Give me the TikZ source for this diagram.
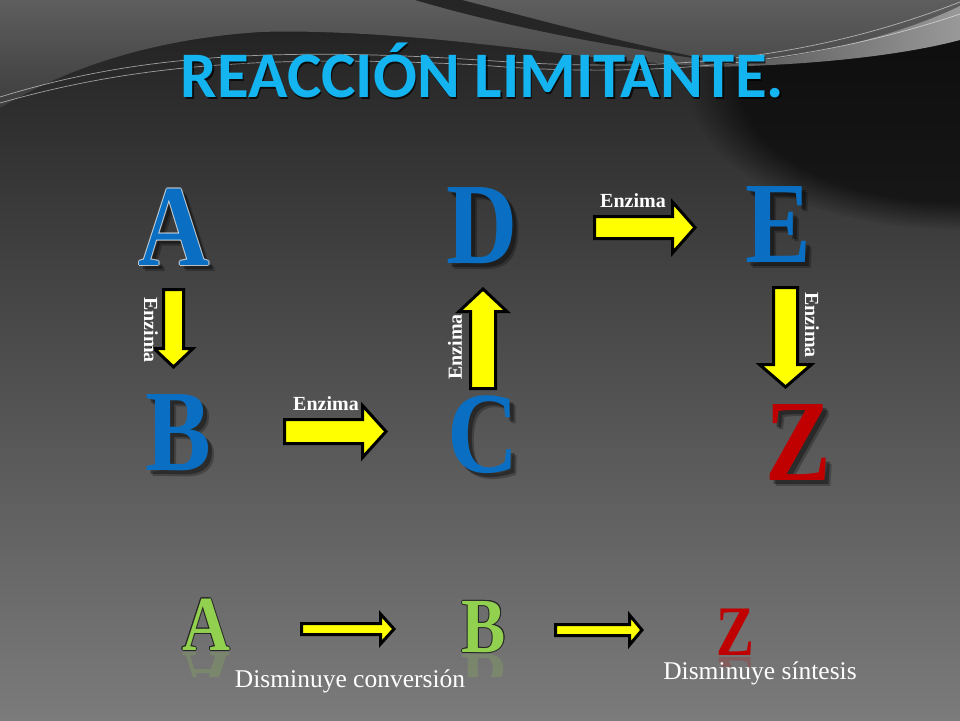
\documentclass[tikz,border=0pt]{standalone}
\usepackage{fontspec}
\setmainfont{Liberation Serif}
\newfontfamily\titlefont{Carlito}
\usetikzlibrary{fadings}
\definecolor{bgtop}{HTML}{202020}
\definecolor{bgbot}{HTML}{7B7B7B}
\definecolor{topgray}{HTML}{4C4C4C}
\definecolor{bigblue}{HTML}{0A6FC2}
\definecolor{bigred}{HTML}{C00000}
\definecolor{lgreen}{HTML}{92D050}
\definecolor{titlecyan}{HTML}{14B4F0}
\definecolor{arrowyellow}{HTML}{FFFF00}
\tikzset{
  bigletter/.style={inner sep=0pt, anchor=base, xscale=0.85, font=\fontsize{116}{120}\selectfont\bfseries},
  bigshadow/.style={bigletter, text=black, opacity=0.35},
  enz/.style={inner sep=0pt, text=white, font=\fontsize{20}{21}\selectfont\bfseries},
  blockarrow/.style={fill=arrowyellow, draw=black, line width=3pt, line join=miter},
  smallletter/.style={inner sep=0pt, anchor=base, xscale=0.85, font=\fontsize{78}{80}\selectfont\bfseries},
  smallz/.style={inner sep=0pt, anchor=base, xscale=0.8, font=\fontsize{71}{73}\selectfont\bfseries},
  caption/.style={inner sep=0pt, anchor=base, text=white, font=\fontsize{25.5}{27}\selectfont},
  titlesty/.style={inner sep=0pt, anchor=base, font=\titlefont\bfseries\fontsize{65}{70}\selectfont},
  thinline/.style={white, line width=0.7pt, opacity=0.55},
}
\newcommand{\harr}[6]{%
  \filldraw[blockarrow] (#1,#2-#5) -- (#3,#2-#5) -- (#3,#2-#6) -- (#4,#2) -- (#3,#2+#6) -- (#3,#2+#5) -- (#1,#2+#5) -- cycle;}
\newcommand{\varr}[6]{%
  \filldraw[blockarrow] (#1-#5,#2) -- (#1-#5,#3) -- (#1-#6,#3) -- (#1,#4) -- (#1+#6,#3) -- (#1+#5,#3) -- (#1+#5,#2) -- cycle;}
\begin{document}
\begin{tikzpicture}[x=1pt,y=-1pt]
\useasboundingbox (0,0) rectangle (960,720);
% ---------- background ----------
\shade[top color=bgtop, bottom color=bgbot] (0,0) rectangle (960,720);
\fill[black, opacity=0.6, path fading=circle with fuzzy edge 20 percent] (960,90) ellipse (270pt and 140pt);
% top light region
\shade[top color=topgray!90!white, bottom color=topgray!80!black]
  (0,0) -- (960,0) -- (960,22) .. controls (880,45) and (800,62) .. (700,66)
  .. controls (600,60) and (540,50) .. (480,44) .. controls (400,35) and (320,30) .. (260,32)
  .. controls (170,38) and (80,60) .. (0,108) -- cycle;
% dark stroke
\fill[black!85] (415,0) .. controls (500,25) and (600,45) .. (720,62)
  .. controls (610,40) and (520,15) .. (462,0) -- cycle;
% right light band
\shade[left color=black!70, right color=black!40]
  (690,67) .. controls (800,62) and (900,35) .. (960,6) -- (960,40)
  .. controls (900,56) and (800,67) .. (690,67) -- cycle;
% thin lines
\draw[thinline] (0,97) .. controls (120,60) and (250,45) .. (480,60) .. controls (620,70) and (780,72) .. (960,2);
\draw[thinline] (0,103) .. controls (130,66) and (260,54) .. (480,65) .. controls (630,78) and (800,68) .. (960,14);
% ---------- title ----------
\node[titlesty, text=black, opacity=0.7] (titleshadow) at (484,99.5) {REACCIÓN LIMITANTE.};
\node[titlesty, text=titlecyan] (title) at (482.5,97) {REACCIÓN LIMITANTE.};
% ---------- big letters ----------
\foreach \n/\x/\y in {A/174/265, D/482/263, E/778/262, B/178/470, C/483/472, Z/798/480}{
  \node[bigshadow] (\n s1) at (\x+4,\y+4) {\n};
  \node[bigshadow, opacity=0.25] (\n s2) at (\x+6,\y+6) {\n};
}
\foreach \dx/\dy [count=\i] in {1/0,-1/0,0/1,0/-1}{
  \node[bigletter, text=white, opacity=0.7] (Ao\i) at (174+\dx,265+\dy) {A};
}
\node[bigletter, text=bigblue] (A) at (174,265) {A};
\node[bigletter, text=bigblue] (D) at (482,263) {D};
\node[bigletter, text=bigblue] (E) at (778,262) {E};
\node[bigletter, text=bigblue] (B) at (178,470) {B};
\node[bigletter, text=bigblue] (C) at (483,472) {C};
\node[bigletter, text=bigred] (Z) at (798,480) {Z};
% ---------- enzyme arrows ----------
\varr{173.5}{289.5}{348.5}{367}{10}{19.5}
\harr{284.5}{431.5}{362.5}{386}{12}{26}
\varr{483}{388.5}{311.5}{289}{12.5}{24}
\harr{594.5}{227.5}{672.5}{695}{11}{25.5}
\varr{785.5}{287.5}{364.5}{387}{12}{26}
\node[enz, rotate=-90] (e1) at (151,330) {Enzima};
\node[enz] (e2) at (326,404) {Enzima};
\node[enz, rotate=90] (e3) at (455,347) {Enzima};
\node[enz] (e4) at (633,201) {Enzima};
\node[enz, rotate=-90] (e5) at (812,325) {Enzima};
% ---------- bottom row: reflections ----------
\begin{scope}
  \clip (170,652) rectangle (245,676);
  \node[smallletter, yscale=-1, text=lgreen, opacity=0.2] (Ar) at (206,652) {A};
\end{scope}
\begin{scope}
  \clip (455,654) rectangle (515,676);
  \node[smallletter, yscale=-1, text=lgreen, opacity=0.2] (Br) at (484,654) {B};
\end{scope}
\begin{scope}
  \clip (710,657) rectangle (760,666);
  \node[smallz, yscale=-1, text=bigred, opacity=0.2] (Zr) at (735,657) {Z};
\end{scope}
% ---------- bottom row: letters ----------
\foreach \dx/\dy [count=\i] in {1/0,-1/0,0/1,0/-1,0.8/0.8,-0.8/0.8,0.8/-0.8,-0.8/-0.8}{
  \node[smallletter, text=black!85] (Ao2\i) at (206+\dx,650+\dy) {A};
  \node[smallletter, text=black!85] (Bo2\i) at (484+\dx,652+\dy) {B};
}
\node[smallletter, text=lgreen] (A2) at (206,650) {A};
\node[smallletter, text=lgreen] (B2) at (484,652) {B};
\node[smallz, text=bigred] (Z2) at (735,655) {Z};
\harr{301.5}{629}{380.5}{394}{5.5}{15}
\harr{555.5}{630}{629.5}{642}{5.5}{15}
\node[caption] (cap1) at (350,687) {Disminuye conversión};
\node[caption] (cap2) at (760,679) {Disminuye síntesis};
\end{tikzpicture}
\end{document}
